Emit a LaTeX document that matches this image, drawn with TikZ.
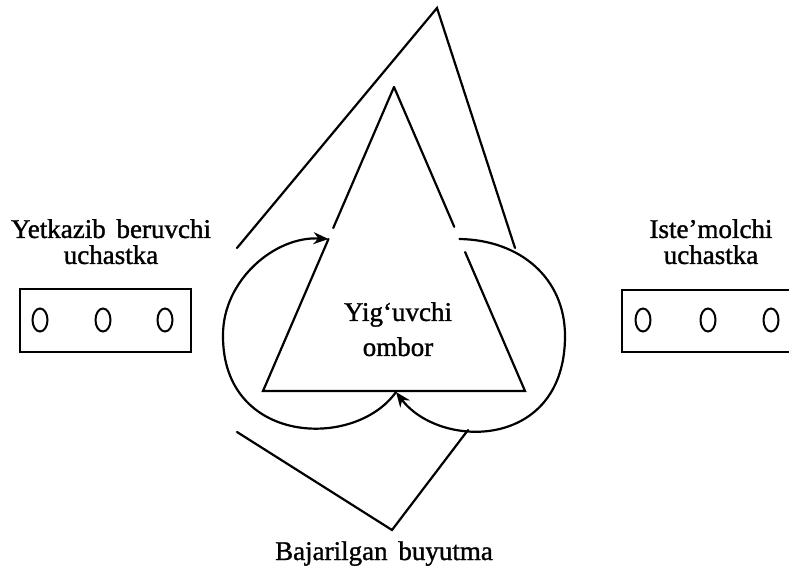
\documentclass[tikz,border=0pt]{standalone}
\usepackage{fontspec}
\setmainfont{Liberation Serif}[FakeBold=1.2]
\usetikzlibrary{calc,arrows.meta,shapes.geometric}
\begin{document}
\begin{tikzpicture}[x=1pt,y=-1pt,
  ln/.style={line width=2.2pt,line cap=round,line join=miter},
  lbl/.style={font=\fontsize{27}{26}\selectfont,inner sep=0pt,align=center},
  ring/.style={draw,line width=2pt,ellipse,minimum width=15pt,minimum height=23pt,inner sep=0pt},
  arr/.style={ln,-{Stealth[length=15pt,width=12pt]}}]
\useasboundingbox (0,0) rectangle (789,570);
% outer open triangle
\coordinate (OL) at (237,248);
\coordinate (OT) at (437,8);
\coordinate (OR) at (515,248);
\draw[ln] (OL) -- (OT) -- (OR);
% inner triangle
\coordinate (A) at (394,87);
\coordinate (BL) at (263,391);
\coordinate (BR) at (525,391);
\coordinate (G1) at ($(A)!0.464!(BL)$);
\coordinate (G2) at ($(A)!0.5!(BL)$);
\coordinate (G3) at ($(A)!0.46!(BR)$);
\coordinate (G4) at ($(A)!0.543!(BR)$);
\draw[ln] (A) -- (G1);
\draw[ln] (G2) -- (BL) -- (BR) -- (G4);
\draw[ln] (G3) -- (A);
% loops
\coordinate (M) at (396,392);
\coordinate (LL) at (223,335);
\coordinate (RS) at ($(A)!0.5!(BR)$);
\coordinate (RR) at (565,336);
\draw[arr] (M) .. controls (355,450) and (222,445) .. (LL)
  .. controls (223,280) and (275,236) .. (G2);
\draw[arr] (RS) .. controls (520,240) and (565,278) .. (RR)
  .. controls (565,450) and (440,450) .. (M);
% bottom V
\coordinate (VL) at (237,432);
\coordinate (VB) at (392,530);
\coordinate (VR) at (468,430);
\draw[ln] (VL) -- (VB) -- (VR);
% boxes
\coordinate (LB1) at (20,289);
\coordinate (LB2) at (191,352);
\draw[line width=2pt] (LB1) rectangle (LB2);
\node[ring] (l1) at (40,320) {};
\node[ring] (l2) at (103,320) {};
\node[ring] (l3) at (165,320) {};
\coordinate (RB1) at (800,290);
\coordinate (RB2) at (622,290);
\coordinate (RB3) at (622,352);
\coordinate (RB4) at (800,352);
\draw[line width=2pt] (RB1) -- (RB2) -- (RB3) -- (RB4);
\node[ring] (r1) at (643,320) {};
\node[ring] (r2) at (708,320) {};
\node[ring] (r3) at (771,320) {};
% labels
\node[lbl,anchor=north] (tl) at (111,219) {Yetkazib\hspace{0.4em}beruvchi\\uchastka};
\node[lbl,anchor=north] (tr) at (711,219) {Iste'molchi\\uchastka};
\node[lbl,anchor=north,font=\fontsize{27}{35}\selectfont] (tc) at (398,302) {Yig‘uvchi\\ombor};
\node[lbl,anchor=base] (tb) at (384,560) {Bajarilgan\hspace{0.4em}buyutma};
\end{tikzpicture}
\end{document}
